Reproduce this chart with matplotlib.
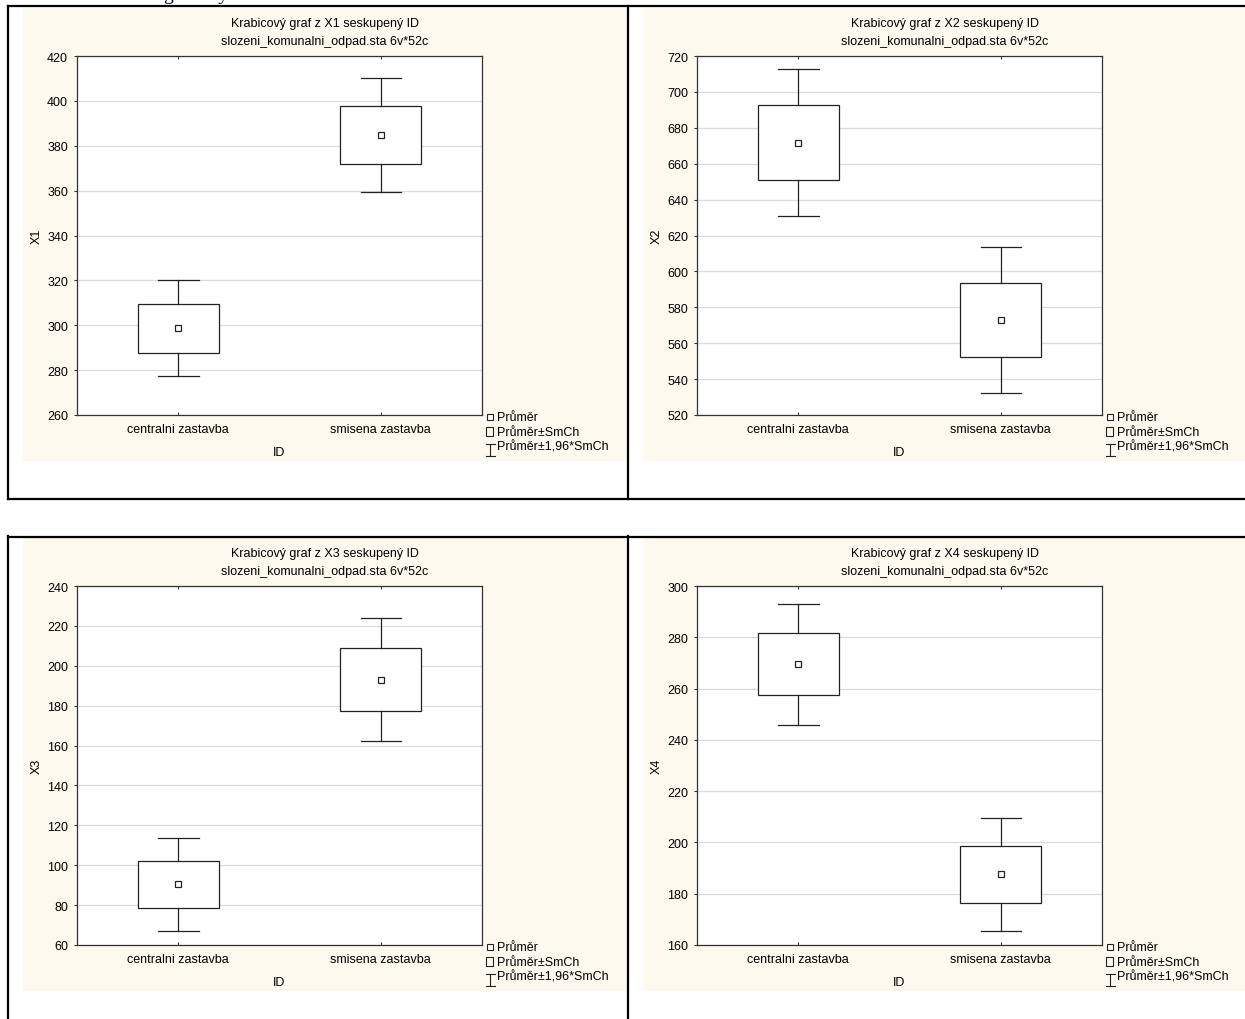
import matplotlib
matplotlib.use("Agg")
import matplotlib.pyplot as plt
from matplotlib.patches import Rectangle

plt.rcParams['font.family'] = ['Liberation Sans', 'DejaVu Sans']

groups = ['centralni zastavba', 'smisena zastavba']
variables = ['X1', 'X2', 'X3', 'X4']
# mean and standard error of each group
means = [[298.6, 384.7], [671.8, 572.9], [90.4, 193.1], [269.5, 187.6]]
std_err = [[10.9, 12.9], [20.8, 20.7], [11.9, 15.8], [12.0, 11.2]]
y_min = [260, 520, 60, 160]
y_max = [420, 720, 240, 300]
legend_labels = ['Průměr', 'Průměr±SmCh', 'Průměr±1,96*SmCh']

W, H = 1245, 1020
cream = '#FEF9EE'
ink = '#222222'

fig = plt.figure(figsize=(W / 100, H / 100), dpi=100)
fig.patch.set_facecolor('white')

# overlay in pixel coordinates for the page furniture
ov = fig.add_axes([0, 0, 1, 1])
ov.set_xlim(0, W); ov.set_ylim(H, 0); ov.axis('off')

# cut-off line of text from the page above
ov.text(163, 0.5, 'graficky', fontsize=14, family=['Liberation Serif', 'DejaVu Serif'],
        va='baseline', ha='left', color='black')

offsets = [(0, 0), (620, 0), (0, 530), (620, 530)]

for k, (dx, dy) in enumerate(offsets):
    # cream graph window
    ov.add_patch(Rectangle((dx + 23, dy + 9), 604, 453, facecolor=cream, edgecolor='none'))

    # titles
    cx = dx + 325
    ov.text(cx, dy + 24, 'Krabicový graf z %s seskupený ID' % variables[k],
            ha='center', va='center', fontsize=9)
    ov.text(cx, dy + 42, 'slozeni_komunalni_odpad.sta 6v*52c',
            ha='center', va='center', fontsize=9)

    # legend
    lx = dx + 490
    ov.plot([lx], [dy + 418], marker='s', ms=4, mfc='white', mec=ink, mew=0.8)
    ov.add_patch(Rectangle((lx - 4, dy + 427.5), 7, 9.5, facecolor='none', edgecolor=ink, lw=0.8))
    ov.plot([lx, lx], [dy + 445, dy + 457], color=ink, lw=0.8)
    ov.plot([lx - 4.5, lx + 4.5], [dy + 445, dy + 445], color=ink, lw=0.8)
    ov.plot([lx - 4.5, lx + 4.5], [dy + 457, dy + 457], color=ink, lw=0.8)
    for j, lab in enumerate(legend_labels):
        ov.text(lx + 7, dy + 418 + 14.8 * j, lab, ha='left', va='center', fontsize=9)

# table borders
lw_tab = 1.6
ov.plot([8, 8], [7, 500], color='black', lw=lw_tab)
ov.plot([8, W], [7, 7], color='black', lw=lw_tab)
ov.plot([8, W], [499.5, 499.5], color='black', lw=lw_tab)
ov.plot([628, 628], [7, 500], color='black', lw=lw_tab)
ov.plot([8, W], [537.5, 537.5], color='black', lw=lw_tab)
ov.plot([8, 8], [537, H], color='black', lw=lw_tab)
ov.plot([628, 628], [537, H], color='black', lw=lw_tab)

# plot areas
left, right, top, bottom = 77, 482, 57, 416
for k, (dx, dy) in enumerate(offsets):
    ax = fig.add_axes([(left + dx) / W, 1 - (bottom + dy) / H,
                       (right - left) / W, (bottom - top) / H])
    ax.set_facecolor('white')
    ax.set_xlim(0, 2)
    ax.set_ylim(y_min[k], y_max[k])
    ax.set_yticks(range(y_min[k], y_max[k] + 1, 20))
    ax.grid(axis='y', color='#DADADA', lw=0.9)
    ax.set_axisbelow(True)
    for sp in ax.spines.values():
        sp.set_color('#333333'); sp.set_linewidth(0.9)

    for i in range(2):
        x = i + 0.5
        m = means[k][i]
        s = std_err[k][i]
        ax.add_patch(Rectangle((x - 0.2, m - s), 0.4, 2 * s, facecolor='white',
                               edgecolor=ink, lw=0.9, zorder=3))
        ax.plot([x, x], [m + s, m + 1.96 * s], color=ink, lw=0.9, zorder=3)
        ax.plot([x, x], [m - s, m - 1.96 * s], color=ink, lw=0.9, zorder=3)
        ax.plot([x - 0.1, x + 0.1], [m + 1.96 * s] * 2, color=ink, lw=0.9, zorder=3)
        ax.plot([x - 0.1, x + 0.1], [m - 1.96 * s] * 2, color=ink, lw=0.9, zorder=3)
        ax.plot([x], [m], marker='s', ms=5, mfc='white', mec=ink, mew=0.9, zorder=4)

    ax.set_xticks([0.5, 1.5])
    ax.set_xticklabels(groups)
    ax.tick_params(axis='x', direction='in', length=2.5, top=True, pad=6,
                   labelsize=9, color='#333333')
    ax.tick_params(axis='y', direction='out', length=2.5, pad=4,
                   labelsize=9, color='#333333')
    ax.set_xlabel('ID', fontsize=9, labelpad=8)
    ax.set_ylabel(variables[k], fontsize=9, labelpad=3)

fig.savefig('out.png', dpi=100)
